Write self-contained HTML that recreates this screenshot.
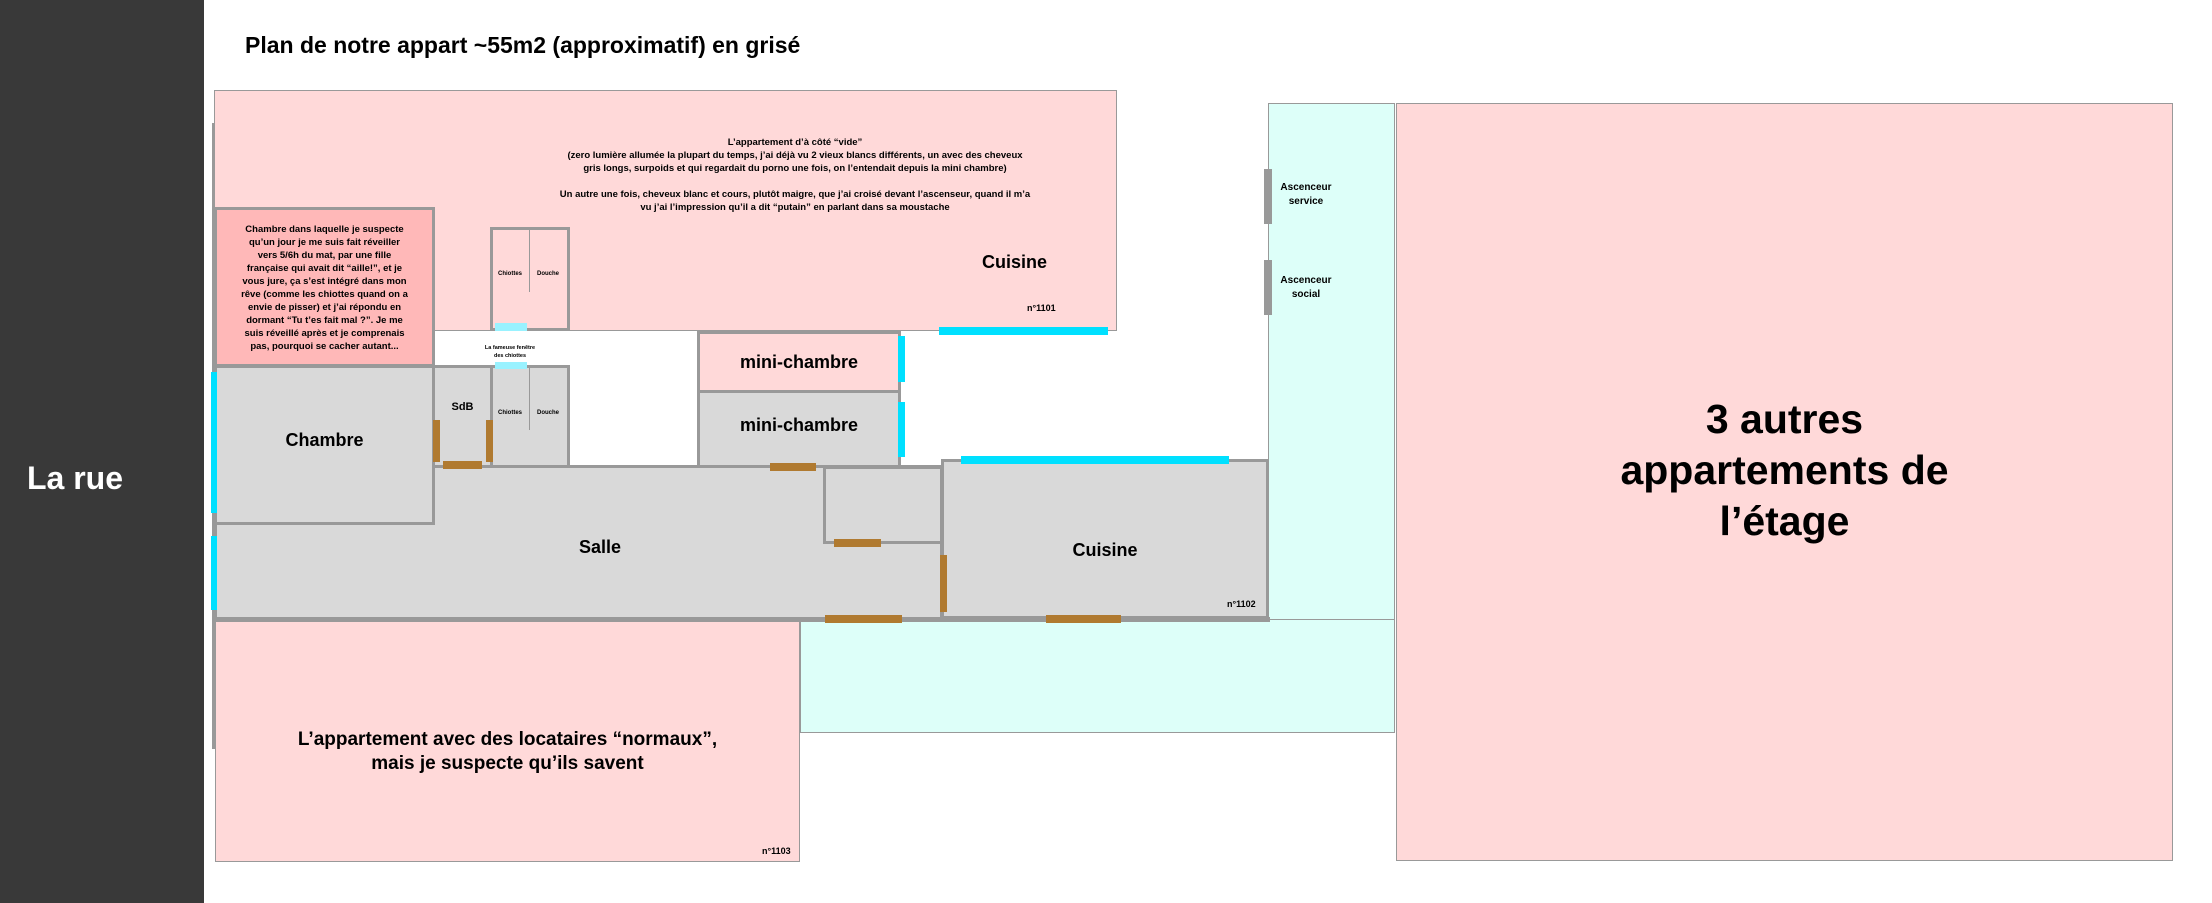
<!DOCTYPE html>
<html><head><meta charset="utf-8"><style>
body{margin:0;width:2212px;height:903px;position:relative;overflow:hidden;background:#fff;font-family:"Liberation Sans",sans-serif;font-weight:bold;color:#000}
div{position:absolute;box-sizing:border-box}
.pk{background:#ffd9d9}
.gr{background:#d9d9d9;border:3px solid #999}
.cy{background:#ddfff9;border:1px solid #999}
.w{background:#00e0ff}
.d{background:#b07a30}
.t{text-align:center;white-space:nowrap}
</style></head><body>
<div style="left:0;top:0;width:204px;height:903px;background:#393939"></div>
<div class="t" style="left:0;top:460px;width:150px;color:#fff;font-size:32px">La rue</div>
<div style="left:245px;top:32px;font-size:23px;white-space:nowrap">Plan de notre appart ~55m2 (approximatif) en grisé</div>

<!-- right side -->
<div class="cy" style="left:1268px;top:103px;width:127px;height:517px"></div>
<div class="cy" style="left:800px;top:619px;width:595px;height:114px"></div>
<div style="left:1264px;top:169px;width:8px;height:55px;background:#999"></div>
<div style="left:1264px;top:260px;width:8px;height:55px;background:#999"></div>
<div class="t" style="left:1276px;top:181px;width:60px;font-size:10px;line-height:14px">Ascenceur<br>service</div>
<div class="t" style="left:1276px;top:274px;width:60px;font-size:10px;line-height:14px">Ascenceur<br>social</div>
<div class="pk" style="left:1396px;top:103px;width:777px;height:758px;border:1px solid #999"></div>
<div class="t" style="left:1396px;top:394px;width:777px;font-size:41px;line-height:51px">3 autres<br>appartements de<br>l’étage</div>

<!-- top apt -->
<div class="pk" style="left:214px;top:90px;width:903px;height:241px;border:1px solid #999"></div>
<div style="left:212px;top:123px;width:3px;height:626px;background:#999"></div>
<div class="t" style="left:500px;top:136px;width:590px;font-size:9.5px;line-height:13px">L’appartement d’à côté “vide”<br>(zero lumière allumée la plupart du temps, j’ai déjà vu 2 vieux blancs différents, un avec des cheveux<br>gris longs, surpoids et qui regardait du porno une fois, on l’entendait depuis la mini chambre)<br><br>Un autre une fois, cheveux blanc et cours, plutôt maigre, que j’ai croisé devant l’ascenseur, quand il m’a<br>vu j’ai l’impression qu’il a dit “putain” en parlant dans sa moustache</div>
<div style="left:982px;top:252px;font-size:18px">Cuisine</div>
<div style="left:1027px;top:303px;font-size:9px">n°1101</div>
<div class="w" style="left:939px;top:327px;width:169px;height:8px"></div>

<div style="left:214px;top:207px;width:221px;height:160px;background:#ffb8b8;border:3px solid #999"></div>
<div class="t" style="left:214px;top:223px;width:221px;font-size:9.5px;line-height:13px">Chambre dans laquelle je suspecte<br>qu’un jour je me suis fait réveiller<br>vers 5/6h du mat, par une fille<br>française qui avait dit “aille!”, et je<br>vous jure, ça s’est intégré dans mon<br>rêve (comme les chiottes quand on a<br>envie de pisser) et j’ai répondu en<br>dormant “Tu t’es fait mal ?”. Je me<br>suis réveillé après et je comprenais<br>pas, pourquoi se cacher autant...</div>

<div class="pk" style="left:490px;top:227px;width:80px;height:104px;border:3px solid #999"></div>
<div style="left:529px;top:229px;width:1px;height:63px;background:#999"></div>
<div class="t" style="left:494px;top:271px;width:32px;font-size:6px">Chiottes</div>
<div class="t" style="left:532px;top:271px;width:32px;font-size:6px">Douche</div>
<div style="left:495px;top:323px;width:32px;height:8px;background:#99f2ff"></div>
<div class="t" style="left:470px;top:344px;width:80px;font-size:5.5px;line-height:8px">La fameuse fenêtre<br>des chiottes</div>

<!-- grey rooms -->
<div class="gr" style="left:214px;top:466px;width:729px;height:155px;border-bottom:none;border-top:none"></div>
<div style="left:432px;top:465px;width:511px;height:3px;background:#999"></div>
<div class="gr" style="left:214px;top:365px;width:221px;height:160px"></div>
<div class="t" style="left:214px;top:430px;width:221px;font-size:18px">Chambre</div>
<div class="gr" style="left:432px;top:365px;width:61px;height:103px"></div>
<div class="t" style="left:432px;top:401px;width:61px;font-size:11px">SdB</div>
<div class="gr" style="left:490px;top:365px;width:80px;height:103px"></div>
<div style="left:529px;top:367px;width:1px;height:63px;background:#999"></div>
<div class="t" style="left:494px;top:410px;width:32px;font-size:6px">Chiottes</div>
<div class="t" style="left:532px;top:410px;width:32px;font-size:6px">Douche</div>
<div style="left:495px;top:362px;width:32px;height:7px;background:#99f2ff"></div>
<div class="pk" style="left:697px;top:331px;width:204px;height:62px;border:3px solid #999"></div>
<div class="t" style="left:697px;top:352px;width:204px;font-size:18px">mini-chambre</div>
<div class="gr" style="left:697px;top:390px;width:204px;height:78px"></div>
<div class="t" style="left:697px;top:415px;width:204px;font-size:18px">mini-chambre</div>
<div class="gr" style="left:823px;top:466px;width:120px;height:78px"></div>
<div class="gr" style="left:941px;top:459px;width:328px;height:160px"></div>
<div class="t" style="left:941px;top:540px;width:328px;font-size:18px">Cuisine</div>
<div style="left:1227px;top:599px;font-size:9px">n°1102</div>
<div class="t" style="left:500px;top:537px;width:200px;font-size:18px">Salle</div>
<div style="left:214px;top:617px;width:1056px;height:5px;background:#999"></div>

<!-- windows -->
<div class="w" style="left:211px;top:372px;width:6px;height:141px"></div>
<div class="w" style="left:211px;top:536px;width:6px;height:74px"></div>
<div class="w" style="left:898px;top:336px;width:7px;height:46px"></div>
<div class="w" style="left:898px;top:402px;width:7px;height:55px"></div>
<div class="w" style="left:961px;top:456px;width:268px;height:8px"></div>

<!-- doors -->
<div class="d" style="left:433px;top:420px;width:7px;height:42px"></div>
<div class="d" style="left:486px;top:420px;width:7px;height:42px"></div>
<div class="d" style="left:443px;top:461px;width:39px;height:8px"></div>
<div class="d" style="left:770px;top:463px;width:46px;height:8px"></div>
<div class="d" style="left:834px;top:539px;width:47px;height:8px"></div>
<div class="d" style="left:940px;top:555px;width:7px;height:57px"></div>
<div class="d" style="left:825px;top:615px;width:77px;height:8px"></div>
<div class="d" style="left:1046px;top:615px;width:75px;height:8px"></div>

<!-- bottom apt -->
<div class="pk" style="left:215px;top:622px;width:585px;height:240px;border:1px solid #999;border-top:none"></div>
<div class="t" style="left:215px;top:728px;width:585px;font-size:19px;line-height:24px">L’appartement avec des locataires “normaux”,<br>mais je suspecte qu’ils savent</div>
<div style="left:762px;top:846px;font-size:9px">n°1103</div>
</body></html>
